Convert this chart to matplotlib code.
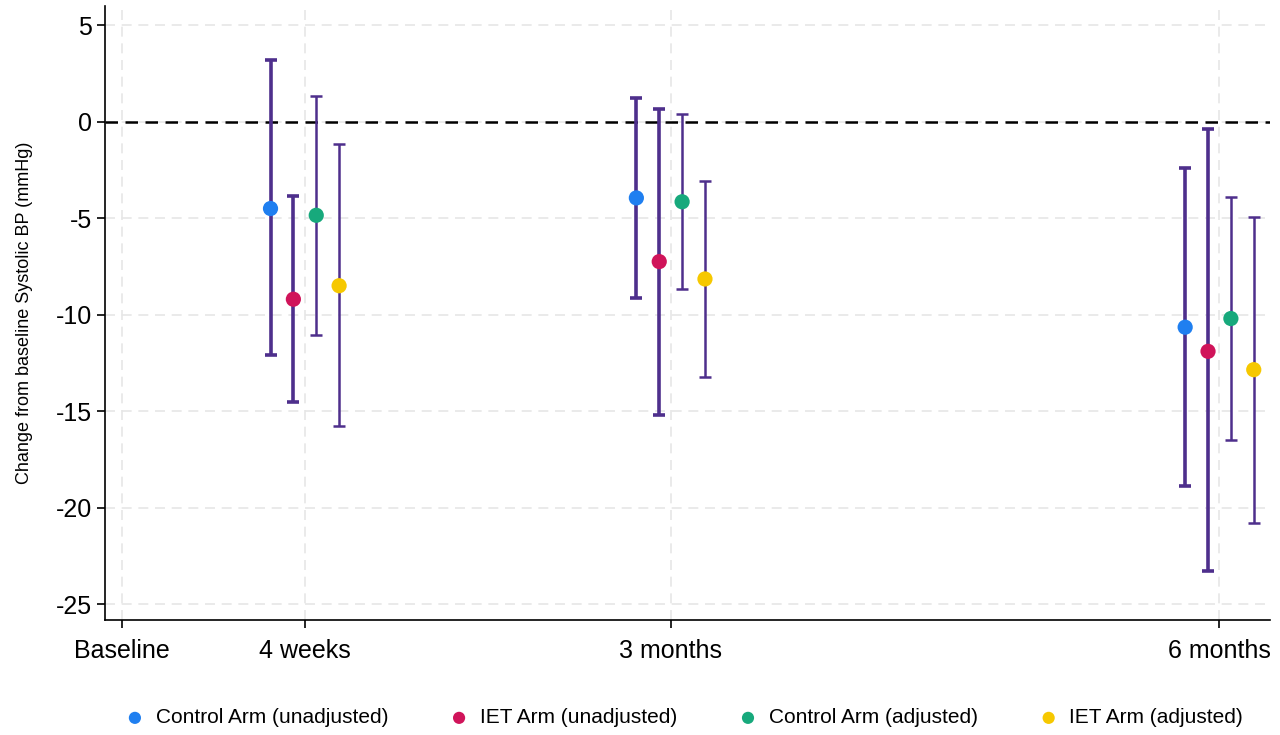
import matplotlib
matplotlib.use("Agg")
import matplotlib.pyplot as plt
import numpy as np

plt.rcParams["font.family"] = ["Liberation Sans", "DejaVu Sans"]

# time points in weeks from baseline
timepoints = [4, 12, 24]
tick_pos = [0, 4, 12, 24]
tick_labels = ["Baseline", "4 weeks", "3 months", "6 months"]

series = ["Control Arm (unadjusted)", "IET Arm (unadjusted)",
          "Control Arm (adjusted)", "IET Arm (adjusted)"]
colors = ["#1f7ff0", "#d0145a", "#17a97c", "#f6c800"]
offsets = [-0.75, -0.25, 0.25, 0.75]
bar_lw = [2.6, 2.6, 1.8, 1.8]

# point estimates and 95% CI per series, at 4 weeks / 3 months / 6 months
est = [
    [-4.5, -3.95, -10.65],
    [-9.2, -7.25, -11.9],
    [-4.85, -4.15, -10.2],
    [-8.5, -8.15, -12.85],
]
ci_hi = [
    [3.2, 1.25, -2.4],
    [-3.85, 0.65, -0.4],
    [1.35, 0.4, -3.9],
    [-1.15, -3.05, -4.95],
]
ci_lo = [
    [-12.1, -9.15, -18.9],
    [-14.5, -15.2, -23.3],
    [-11.05, -8.65, -16.5],
    [-15.75, -13.25, -20.8],
]

fig = plt.figure(figsize=(12.8, 7.35), dpi=100)
ax = fig.add_axes([0.082, 0.157, 0.91, 0.835])

for i, name in enumerate(series):
    x = np.array(timepoints) + offsets[i]
    y = np.array(est[i])
    yerr = [y - np.array(ci_lo[i]), np.array(ci_hi[i]) - y]
    ax.errorbar(x, y, yerr=yerr, fmt="none", ecolor="#4e2f8c",
                elinewidth=bar_lw[i], capsize=4.5, capthick=bar_lw[i], zorder=2)
    ax.scatter(x, y, s=120, color=colors[i], zorder=3, label=name,
               edgecolors="none")

ax.axhline(0, color="black", lw=1.8, ls=(0, (5, 3)), zorder=1)

ax.set_xlim(-0.37, 25.1)
ax.set_ylim(-25.8, 6)
ax.set_xticks(tick_pos)
ax.set_xticklabels(tick_labels, fontsize=18)
ax.set_yticks([5, 0, -5, -10, -15, -20, -25])
ax.set_yticklabels(["5", "0", "-5", "-10", "-15", "-20", "-25"], fontsize=18)
ax.tick_params(axis="both", length=6, width=1.2)
ax.tick_params(axis="x", pad=8)
ax.grid(True, color="#e6e6e6", ls=(0, (6, 4)), lw=1.2, zorder=0)
ax.set_axisbelow(True)
for s in ["top", "right"]:
    ax.spines[s].set_visible(False)
for s in ["left", "bottom"]:
    ax.spines[s].set_linewidth(1.2)

ax.set_ylabel("Change from baseline Systolic BP (mmHg)", fontsize=13, labelpad=16)

ax.legend(loc="upper center", bbox_to_anchor=(0.497, -0.114), ncol=4,
          frameon=False, fontsize=15, handlelength=1.0, handletextpad=0.5,
          columnspacing=2.9, markerscale=0.8)

fig.savefig("out.png", dpi=100)
